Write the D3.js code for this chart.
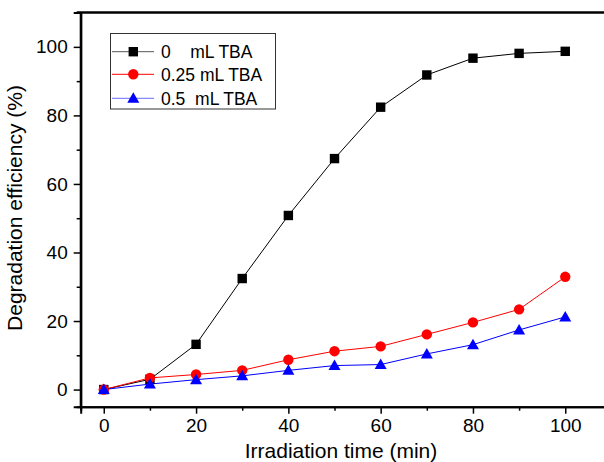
<!DOCTYPE html>
<html><head><meta charset="utf-8">
<script src="https://cdn.jsdelivr.net/npm/d3@7"></script>
<style>
html,body{margin:0;padding:0;background:#fff;overflow:hidden;}
text{font-family:"Liberation Sans",Arial,Helvetica,sans-serif;}
</style></head>
<body>
<svg id="c" width="604" height="462"></svg>
<script>
const times = [0,10,20,30,40,50,60,70,80,90,100];
const tba0   = [0,3.0,13.2,32.4,50.8,67.4,82.4,91.8,96.7,98.1,98.7];
const tba025 = [0,3.4,4.4,5.6,8.7,11.2,12.6,16.1,19.6,23.4,32.9];
const tba05  = [0,1.6,2.9,4.0,5.6,7.0,7.3,10.4,13.1,17.4,21.2];
const seriesNames = ["0    mL TBA","0.25 mL TBA","0.5  mL TBA"];
const seriesColors = ["#000000","#ff0000","#0000ff"];
const seriesShapes = ["square","circle","triangle"];
const xTicks = [0,20,40,60,80,100];
const yTicks = [0,20,40,60,80,100];
const xLabel = "Irradiation time (min)";
const yLabel = "Degradation efficiency (%)";

const svg = d3.select("#c");
const x = d3.scaleLinear().domain([-5,110]).range([80.7,611.4]);
const y = d3.scaleLinear().domain([-5,110]).range([406.7,12.6]);

const allSeries = [tba0,tba025,tba05].map((v,i)=>({name:seriesNames[i],color:seriesColors[i],shape:seriesShapes[i],values:v}));

const xAxis = svg.append("g").attr("transform",`translate(0,${y(-5)})`)
  .call(d3.axisBottom(x).tickValues(xTicks).tickSize(7).tickPadding(5).tickFormat(d3.format("d")));
const xMinor = svg.append("g").attr("transform",`translate(0,${y(-5)})`)
  .call(d3.axisBottom(x).tickValues([10,30,50,70,90]).tickSize(4).tickFormat(""));
const yAxis = svg.append("g").attr("transform",`translate(${x(-5)},0)`)
  .call(d3.axisLeft(y).tickValues(yTicks).tickSize(7).tickPadding(6).tickFormat(d3.format("d")));
const yMinor = svg.append("g").attr("transform",`translate(${x(-5)},0)`)
  .call(d3.axisLeft(y).tickValues([10,30,50,70,90]).tickSize(4).tickFormat(""));
[xAxis,xMinor,yAxis,yMinor].forEach(g=>{
  g.select(".domain").attr("stroke","#000").attr("stroke-width",2);
  g.selectAll(".tick line").attr("stroke","#000").attr("stroke-width",1.5);
  g.selectAll(".tick text").attr("fill","#000").style("font-size","19px");
});
svg.append("line").attr("x1",x(-5)-4).attr("x2",604).attr("y1",y(110)).attr("y2",y(110))
  .attr("stroke","#000").attr("stroke-width",2.5);
svg.append("line").attr("x1",x(-5)).attr("x2",x(-5)).attr("y1",y(110)).attr("y2",y(-5))
  .attr("stroke","#000").attr("stroke-width",2);

svg.append("text").attr("x",341).attr("y",458).attr("text-anchor","middle")
  .style("font-size","21px").text(xLabel);
svg.append("text").attr("transform","translate(22,208) rotate(-90)").attr("text-anchor","middle")
  .style("font-size","21px").text(yLabel);

function marker(g, shape, color, cx, cy){
  if(shape==="square"){
    g.append("rect").attr("x",cx-4.7).attr("y",cy-4.7).attr("width",9.4).attr("height",9.4).attr("fill",color);
  } else if(shape==="circle"){
    g.append("circle").attr("cx",cx).attr("cy",cy).attr("r",5.2).attr("fill",color);
  } else {
    const s=6;
    g.append("path").attr("d",`M${cx},${cy-s}L${cx+s*1.0},${cy+s*0.75}L${cx-s*1.0},${cy+s*0.75}Z`).attr("fill",color);
  }
}

const line = d3.line().x((d,i)=>x(times[i])).y(d=>y(d));
allSeries.forEach(s=>{
  svg.append("path").datum(s.values).attr("d",line).attr("fill","none")
    .attr("stroke",s.color).attr("stroke-width",1);
});
allSeries.forEach(s=>{
  const g = svg.append("g");
  s.values.forEach((v,i)=>marker(g,s.shape,s.color,x(times[i]),y(v)));
});

const lg = svg.append("g");
lg.append("rect").attr("x",110.5).attr("y",33.5).attr("width",165).attr("height",75.5)
  .attr("fill","#fff").attr("stroke","#333").attr("stroke-width",1);
const legendLineColors = ["#555555","#ff0000","#6b6bff"];
const rowsY = [51.7,74.3,98.3];
allSeries.forEach((s,i)=>{
  lg.append("line").attr("x1",112).attr("x2",154).attr("y1",rowsY[i]).attr("y2",rowsY[i])
    .attr("stroke",legendLineColors[i]).attr("stroke-width",1);
  marker(lg,s.shape,s.color,133.3,rowsY[i]);
  lg.append("text").attr("x",161).attr("y",rowsY[i]+6.5).style("font-size","17.5px")
    .attr("xml:space","preserve").style("white-space","pre").text(s.name);
});
</script>
</body></html>
